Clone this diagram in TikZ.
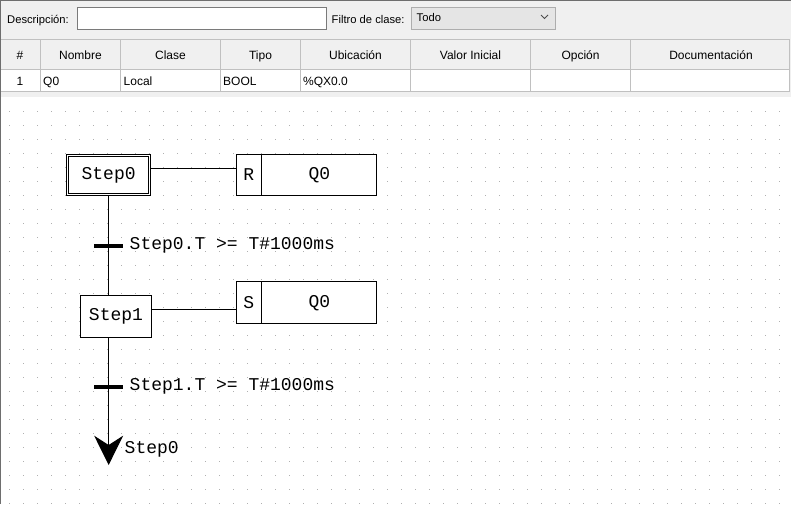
\documentclass[tikz,border=0pt]{standalone}
\usepackage{fontspec}
\setmainfont{Liberation Sans}
\newfontfamily\monofont{Liberation Mono}
\usetikzlibrary{arrows.meta,calc}
\definecolor{panelgray}{HTML}{F0F0F0}
\definecolor{gridline}{HTML}{C0C0C0}
\definecolor{edgegray}{HTML}{6E6E6E}
\definecolor{fieldborder}{HTML}{7A7A7A}
\definecolor{combofill}{HTML}{E5E5E5}
\definecolor{comboborder}{HTML}{ADADAD}
\definecolor{dotgray}{HTML}{B0B0B0}
\newcommand\uifont{\fontsize{12}{14}\selectfont}
\newcommand\lblfont{\fontsize{11.2}{13}\selectfont}
\newcommand\mfont{\monofont\fontsize{18}{20}\selectfont}
\begin{document}
\begin{tikzpicture}[x=1pt,y=-1pt,
  uitext/.style={font=\uifont, inner sep=0pt, text=black},
  hdr/.style={uitext, anchor=base},
  cell/.style={uitext, anchor=base west},
  lbl/.style={font=\lblfont, inner sep=0pt, text=black, anchor=base west},
  mono/.style={font=\mfont, inner sep=0pt, text=black},
  stepbox/.style={draw=black, line width=1pt, fill=white, inner sep=0pt, font=\mfont},
  actbox/.style={draw=black, line width=1pt, fill=white, inner sep=0pt, minimum width=140pt},
  trbar/.style={fill=black, inner sep=0pt, minimum width=29pt, minimum height=4pt},
  wire/.style={draw=black, line width=1pt},
]
\useasboundingbox (0,0) rectangle (791,504);
% ---------- top panel ----------
\fill[panelgray] (0,0) rectangle (791,97);
\draw[edgegray, line width=1pt] (0,0.5) -- (791,0.5);
\node[lbl] (lbldesc) at (7,23) {Descripción:};
\node[draw=fieldborder, fill=white, line width=1pt, minimum width=249pt, minimum height=22pt, inner sep=0pt, anchor=north west] (descfield) at (76.5,6.5) {};
\node[lbl] (lblfilt) at (331.5,23) {Filtro de clase:};
\node[draw=comboborder, fill=combofill, line width=1pt, minimum width=144pt, minimum height=22pt, inner sep=0pt, anchor=north west] (combo) at (411,6.5) {};
\node[lbl] (todo) at (416.5,21.5) {Todo};
\draw[black!70, line width=0.8pt] (541,15) -- (544.5,18.5) -- (548,15);
% ---------- table ----------
\fill[white] (0,69.5) rectangle (789.5,91.5);
\draw[gridline, line width=1pt] (0,39.5) -- (789.5,39.5);
\draw[gridline, line width=1pt] (0,69.5) -- (789.5,69.5);
\draw[gridline, line width=1pt] (0,91.5) -- (789.5,91.5);
\foreach \cx in {40.5,120.5,220.5,300.5,410.5,530.5,630.5,789.5}
  \draw[gridline, line width=1pt] (\cx,39.5) -- (\cx,91.5);
\node[hdr] (h1) at (20,59.5) {\#};
\node[hdr] (h2) at (80.5,59.5) {Nombre};
\node[hdr] (h3) at (170.5,59.5) {Clase};
\node[hdr] (h4) at (260.5,59.5) {Tipo};
\node[hdr] (h5) at (355.5,59.5) {Ubicación};
\node[hdr] (h6) at (470.5,59.5) {Valor Inicial};
\node[hdr] (h7) at (580.5,59.5) {Opción};
\node[hdr] (h8) at (711,59.5) {Documentación};
\node[hdr] (r1) at (20,85.5) {1};
\node[cell] (r2) at (43,85.5) {Q0};
\node[cell] (r3) at (123.5,85.5) {Local};
\node[cell] (r4) at (223,85.5) {BOOL};
\node[cell] (r5) at (303,85.5) {\%QX0.0};
% ---------- canvas ----------
\fill[white] (0,97) rectangle (791,504);
\foreach \i in {0,...,55}
  \foreach \j in {0,...,28}
    \fill[dotgray] (9+14*\i,111+14*\j) rectangle ++(1,1);
\draw[edgegray, line width=1pt] (0.5,0) -- (0.5,504);
% ---------- SFC ----------
\node[stepbox, minimum width=84.3pt, minimum height=41pt] (s0) at (108.65,175) {Step0};
\draw[black, line width=1pt] ([shift={(2.7pt,-2.7pt)}]s0.north west) rectangle ([shift={(-2.7pt,2.7pt)}]s0.south east);
\node[stepbox, minimum width=70.4pt, minimum height=42pt] (s1) at (116,316.8) {Step1};
\node[actbox, minimum height=41pt] (a0) at (306.8,175) {};
\node[actbox, minimum height=41.7pt] (a1) at (306.8,302.65) {};
\draw[wire] (261.3,0 |- a0.north) -- (261.3,0 |- a0.south);
\draw[wire] (261.3,0 |- a1.north) -- (261.3,0 |- a1.south);
\node[mono] (q0a) at (248.8,175) {R};
\node[mono] (q0b) at (319.3,175) {Q0};
\node[mono] (q1a) at (248.8,302.7) {S};
\node[mono] (q1b) at (319.3,302.7) {Q0};
\draw[wire] ([yshift=-14.3pt]s0.north east) -- ([yshift=-14.3pt]s0.north east -| a0.west);
\draw[wire] ([yshift=-14pt]s1.north east) -- ([yshift=-14pt]s1.north east -| a1.west);
\coordinate (tip) at (108.65,465);
\draw[wire] (s0.south) -- (s0.south |- s1.north);
\draw[wire, -{Stealth[length=29.3pt, width=29pt, inset=9.3pt]}] (s0.south |- s1.south) -- (tip);
\node[trbar] (t0) at (108.65,246) {};
\node[trbar] (t1) at (108.65,387.3) {};
\node[mono, anchor=base west] (c0) at (129.5,249.3) {Step0.T >= T\#1000ms};
\node[mono, anchor=base west] (c1) at (129.5,390.6) {Step1.T >= T\#1000ms};
\node[mono, anchor=base west] (j0) at (124.5,453.3) {Step0};
\end{tikzpicture}
\end{document}
